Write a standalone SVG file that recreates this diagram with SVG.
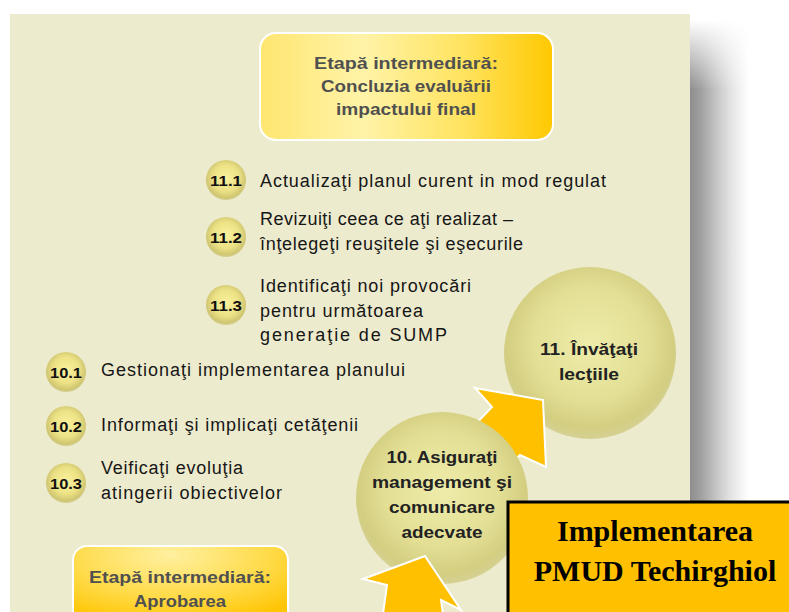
<svg xmlns="http://www.w3.org/2000/svg" width="789" height="612" viewBox="0 0 789 612">
<defs>
  <linearGradient id="shadowH" x1="0" y1="0" x2="1" y2="0">
    <stop offset="0" stop-color="#8c8c8c"/>
    <stop offset="0.2" stop-color="#a0a0a0"/>
    <stop offset="0.45" stop-color="#c4c4c4"/>
    <stop offset="0.7" stop-color="#e4e4e4"/>
    <stop offset="1" stop-color="#ffffff"/>
  </linearGradient>
  <linearGradient id="shadowV" x1="0" y1="0" x2="0" y2="1">
    <stop offset="0" stop-color="#fff" stop-opacity="0"/>
    <stop offset="1" stop-color="#fff" stop-opacity="1"/>
  </linearGradient>
  <mask id="shadowMask">
    <rect x="680" y="20" width="80" height="70" fill="url(#shadowV)"/>
    <rect x="680" y="89" width="80" height="530" fill="#fff"/>
  </mask>
  <linearGradient id="boxTop" x1="0" y1="0" x2="1" y2="0">
    <stop offset="0" stop-color="#FFE670"/>
    <stop offset="0.35" stop-color="#FFF3A8"/>
    <stop offset="0.7" stop-color="#FFE35E"/>
    <stop offset="1" stop-color="#FFC800"/>
  </linearGradient>
  <radialGradient id="boxBot" cx="0.45" cy="0.1" r="0.8">
    <stop offset="0" stop-color="#FFF0A0"/>
    <stop offset="0.6" stop-color="#FFDA45"/>
    <stop offset="1" stop-color="#FFC400"/>
  </radialGradient>
  <radialGradient id="bigC" cx="0.5" cy="0.45" r="0.55">
    <stop offset="0" stop-color="#EEECAA"/>
    <stop offset="0.6" stop-color="#E3DF95"/>
    <stop offset="0.88" stop-color="#D3CE80"/>
    <stop offset="1" stop-color="#CCC67A" stop-opacity="0.7"/>
  </radialGradient>
  <radialGradient id="smallC" cx="0.5" cy="0.45" r="0.55">
    <stop offset="0" stop-color="#FAF29E"/>
    <stop offset="0.6" stop-color="#ECE184"/>
    <stop offset="0.9" stop-color="#D0C672"/>
    <stop offset="1" stop-color="#C8BF70" stop-opacity="0.6"/>
  </radialGradient>
  <style>
    .item { font-family: "Liberation Sans", Arial, sans-serif; font-size: 18px; fill: #161616; }
    .num { font-family: "Liberation Sans", Arial, sans-serif; font-size: 15px; font-weight: bold; fill: #111; text-anchor: middle; }
    .big { font-family: "Liberation Sans", Arial, sans-serif; font-size: 17px; font-weight: bold; fill: #222; text-anchor: middle; }
    .stage { font-family: "Liberation Sans", Arial, sans-serif; font-size: 16px; font-weight: bold; fill: #505050; text-anchor: middle; }
    .title { font-family: "Liberation Serif", "Times New Roman", serif; font-size: 30px; font-weight: bold; fill: #000; text-anchor: middle; }
    .arrow { fill: #FFC000; stroke: #ffffff; stroke-width: 2; stroke-linejoin: miter; }
  </style>
</defs>

<rect x="0" y="0" width="789" height="612" fill="#ffffff"/>
<rect x="689" y="20" width="60" height="600" fill="url(#shadowH)" mask="url(#shadowMask)"/>
<rect x="10" y="14" width="680" height="600" fill="#EDEBCE"/>

<g id="stage-top">
  <rect x="260" y="33" width="293" height="107" rx="16" fill="url(#boxTop)" stroke="#ffffff" stroke-width="2"/>
  <text class="stage" x="406" y="69" textLength="184" lengthAdjust="spacingAndGlyphs">Etapă intermediară:</text>
  <text class="stage" x="406" y="92" textLength="170" lengthAdjust="spacingAndGlyphs">Concluzia evaluării</text>
  <text class="stage" x="406" y="115" textLength="140" lengthAdjust="spacingAndGlyphs">impactului final</text>
</g>

<g id="step-11-1">
  <circle cx="226" cy="180" r="20" fill="url(#smallC)"/>
  <text class="num" x="226" y="186" textLength="32" lengthAdjust="spacingAndGlyphs">11.1</text>
  <text class="item" x="260" y="187" textLength="346" lengthAdjust="spacing">Actualizaţi planul curent in mod regulat</text>
</g>
<g id="step-11-2">
  <circle cx="226" cy="237" r="20" fill="url(#smallC)"/>
  <text class="num" x="226" y="243" textLength="32" lengthAdjust="spacingAndGlyphs">11.2</text>
  <text class="item" x="260" y="225" textLength="253" lengthAdjust="spacing">Revizuiţi ceea ce aţi realizat –</text>
  <text class="item" x="260" y="250" textLength="263" lengthAdjust="spacing">înţelegeţi reuşitele şi eşecurile</text>
</g>
<g id="step-11-3">
  <circle cx="226" cy="305" r="20" fill="url(#smallC)"/>
  <text class="num" x="226" y="311" textLength="32" lengthAdjust="spacingAndGlyphs">11.3</text>
  <text class="item" x="260" y="292" textLength="211" lengthAdjust="spacing">Identificaţi noi provocări</text>
  <text class="item" x="260" y="317" textLength="163" lengthAdjust="spacing">pentru următoarea</text>
  <text class="item" x="260" y="341" textLength="187" lengthAdjust="spacing">generaţie de SUMP</text>
</g>
<g id="step-10-1">
  <circle cx="66" cy="372" r="20" fill="url(#smallC)"/>
  <text class="num" x="66" y="378" textLength="32" lengthAdjust="spacingAndGlyphs">10.1</text>
  <text class="item" x="101" y="376" textLength="304" lengthAdjust="spacing">Gestionaţi implementarea planului</text>
</g>
<g id="step-10-2">
  <circle cx="66" cy="426" r="20" fill="url(#smallC)"/>
  <text class="num" x="66" y="432" textLength="32" lengthAdjust="spacingAndGlyphs">10.2</text>
  <text class="item" x="101" y="431" textLength="257" lengthAdjust="spacing">Informaţi şi implicaţi cetăţenii</text>
</g>
<g id="step-10-3">
  <circle cx="66" cy="483" r="20" fill="url(#smallC)"/>
  <text class="num" x="66" y="489" textLength="32" lengthAdjust="spacingAndGlyphs">10.3</text>
  <text class="item" x="101" y="474" textLength="142" lengthAdjust="spacing">Veificaţi evoluţia</text>
  <text class="item" x="101" y="499" textLength="181" lengthAdjust="spacing">atingerii obiectivelor</text>
</g>

<g id="step-11">
  <circle cx="590" cy="353" r="86" fill="url(#bigC)"/>
  <text class="big" x="589" y="355" textLength="98" lengthAdjust="spacingAndGlyphs">11. Învăţaţi</text>
  <text class="big" x="589" y="380" textLength="60" lengthAdjust="spacingAndGlyphs">lecţiile</text>
</g>

<g id="connectors">
  <polygon class="arrow" points="470,430 492,407 475,388 543,400 546,467 520,455 505,470"/>
</g>

<g id="step-10">
  <circle cx="442" cy="498" r="86" fill="url(#bigC)"/>
  <text class="big" x="442" y="463" textLength="111" lengthAdjust="spacingAndGlyphs">10. Asiguraţi</text>
  <text class="big" x="442" y="488" textLength="140" lengthAdjust="spacingAndGlyphs">management şi</text>
  <text class="big" x="442" y="513" textLength="106" lengthAdjust="spacingAndGlyphs">comunicare</text>
  <text class="big" x="442" y="538" textLength="81" lengthAdjust="spacingAndGlyphs">adecvate</text>
</g>

<g id="connectors-2">
  <polygon class="arrow" points="363,579 425,556 461,610 441,600 443,614 383,614 387,585"/>
</g>

<g id="stage-bottom">
  <rect x="73" y="546" width="215" height="90" rx="14" fill="url(#boxBot)" stroke="#ffffff" stroke-width="2"/>
  <text class="stage" x="180" y="583" textLength="182" lengthAdjust="spacingAndGlyphs">Etapă  intermediară:</text>
  <text class="stage" x="180" y="607" textLength="92" lengthAdjust="spacingAndGlyphs">Aprobarea</text>
</g>

<g id="title">
  <rect x="508" y="502" width="290" height="120" fill="#FFC000" stroke="#000000" stroke-width="3"/>
  <text class="title" x="655" y="541">Implementarea</text>
  <text class="title" x="655" y="581">PMUD Techirghiol</text>
</g>
</svg>
